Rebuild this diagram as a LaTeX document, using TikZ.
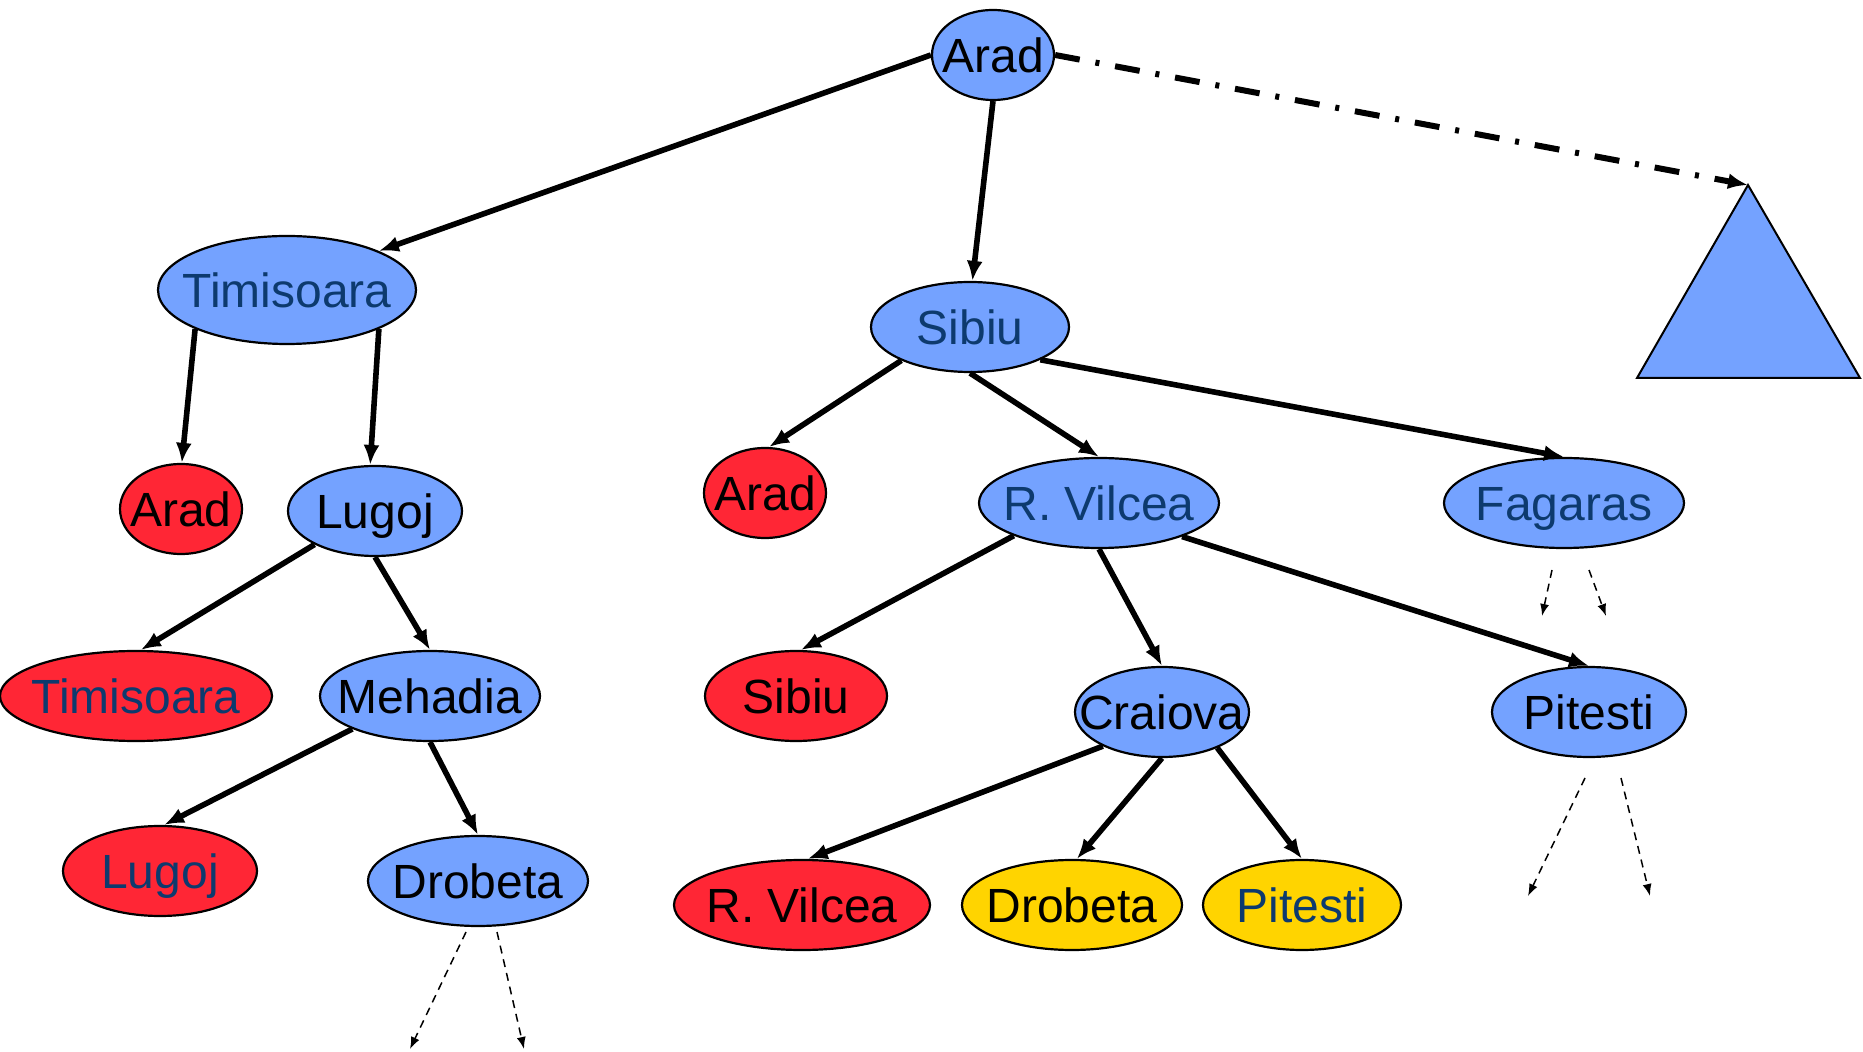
\documentclass[tikz,border=0pt]{standalone}
\usepackage{fontspec}
\setmainfont{Liberation Sans}
\usetikzlibrary{shapes.geometric}
\usetikzlibrary{arrows.meta}
\definecolor{nodeblue}{HTML}{74A2FF}
\definecolor{nodered}{HTML}{FF2635}
\definecolor{nodegold}{HTML}{FFD400}
\definecolor{labelnavy}{HTML}{0D3A6E}
\tikzset{
  citybox/.style={ellipse, draw, line width=1.1pt, inner sep=0pt, minimum height=45pt, text height=17.2pt, text depth=0pt, font=\fontsize{24}{28}\selectfont},
  bluecity/.style={citybox, fill=nodeblue},
  redcity/.style={citybox, fill=nodered},
  goldcity/.style={citybox, fill=nodegold},
  navy/.style={text=labelnavy},
  branch/.style={line width=2.8pt, -{Latex[length=10pt,width=8pt]}},
  subtree/.style={line width=3pt, dash pattern=on 12.5pt off 8pt on 2pt off 8pt, -{Latex[length=10pt,width=8pt]}},
  more/.style={line width=0.75pt, dash pattern=on 4pt off 3pt, -{Latex[length=6pt,width=4.5pt]}}
}
\newcommand{\city}[5]{\node[#2, minimum width=#3] (#1) at (#4) {\makebox[0pt]{#5}};}

\begin{document}
\begin{tikzpicture}[x=0.5pt, y=-0.5pt]
\useasboundingbox (0,0) rectangle (1863,1052);
% root
\city{arad}{bluecity}{61pt}{993,55}{Arad}
% depth 1
\city{tim}{bluecity,navy,minimum height=54pt}{129pt}{287,290}{Timisoara}
\city{sib}{bluecity,navy}{99pt}{970,327}{Sibiu}
\draw[fill=nodeblue, line width=1pt] (1637,378) -- (1748,185) -- (1860,378) -- cycle;
\coordinate (apex) at (1748,185);
% depth 2
\city{ar1}{redcity}{61pt}{181,509}{Arad}
\city{lug}{bluecity}{87pt}{375,511}{Lugoj}
\city{ar2}{redcity}{61pt}{765,493}{Arad}
\city{rv}{bluecity,navy}{120pt}{1099,503}{R. Vilcea}
\city{fag}{bluecity,navy}{120pt}{1564,503}{Fagaras}
% depth 3
\city{tim2}{redcity,navy}{136pt}{136,696}{Timisoara}
\city{meh}{bluecity}{110pt}{430,696}{Mehadia}
\city{sib2}{redcity}{91pt}{796,696}{Sibiu}
\city{cra}{bluecity}{87pt}{1162,712}{Craiova}
\city{pit}{bluecity}{97pt}{1589,712}{Pitesti}
% depth 4
\city{lug2}{redcity,navy}{97pt}{160,871}{Lugoj}
\city{dro}{bluecity}{110pt}{478,881}{Drobeta}
\city{rv2}{redcity}{128pt}{802,905}{R. Vilcea}
\city{dro2}{goldcity}{110pt}{1072,905}{Drobeta}
\city{pit2}{goldcity,navy}{99pt}{1302,905}{Pitesti}
% edges
\draw[branch] (arad.180) -- (tim.23);
\draw[branch] (arad.south) -- (sib.87);
\draw[subtree] (arad.east) -- (apex);
\draw[branch] (tim.203) -- (ar1.89);
\draw[branch] (tim.337) -- (lug.96);
\draw[branch] (sib.206) -- (ar2.85);
\draw[branch] (sib.south) -- (rv.north);
\draw[branch] (sib.335) -- (fag.north);
\draw[branch] (lug.209) -- (tim2.84);
\draw[branch] (lug.south) -- (meh.north);
\draw[branch] (rv.201) -- (sib2.84);
\draw[branch] (rv.south) -- (cra.north);
\draw[branch] (rv.338) -- (pit.north);
\draw[branch] (meh.203) -- (lug2.85);
\draw[branch] (meh.south) -- (dro.north);
\draw[branch] (cra.210) -- (rv2.83);
\draw[branch] (cra.south) -- (dro2.84);
\draw[branch] (cra.327) -- (pit2.north);
% unexpanded children
\coordinate (fagA) at (1552,570); \coordinate (fagB) at (1542,616);
\coordinate (fagC) at (1589,570); \coordinate (fagD) at (1606,616);
\coordinate (pitA) at (1585,778); \coordinate (pitB) at (1528,896);
\coordinate (pitC) at (1621,778); \coordinate (pitD) at (1650,896);
\coordinate (droA) at (466,932); \coordinate (droB) at (410,1049);
\coordinate (droC) at (497,932); \coordinate (droD) at (524,1049);
\draw[more] (fagA) -- (fagB);
\draw[more] (fagC) -- (fagD);
\draw[more] (pitA) -- (pitB);
\draw[more] (pitC) -- (pitD);
\draw[more] (droA) -- (droB);
\draw[more] (droC) -- (droD);
\end{tikzpicture}
\end{document}
